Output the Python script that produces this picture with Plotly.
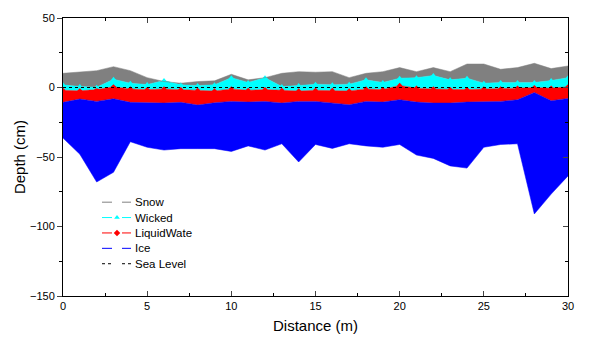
import plotly.graph_objects as go

distance = list(range(0, 31))
ice_bottom = [-36.4, -48, -68, -61, -39, -43, -45, -44, -44, -44, -46, -42, -45, -40.5, -53.6, -41,
              -43.8, -40.5, -42, -43, -41, -48.6, -51, -56.4, -58, -43, -41, -40.5, -91, -76.7, -63.6]
ice_top = [-10.7, -8.3, -10, -8.1, -10.7, -11.2, -11.2, -10.7, -12.6, -11, -10, -10.5, -10, -11.2, -10, -10,
           -11.2, -12.4, -10, -10.5, -8.8, -10.5, -11.2, -11.2, -10.5, -10, -10, -8.8, -3.6, -9.5, -7.9]
liquid_top = [-2, -2.4, -1.5, 0.5, -1, -1.5, -1, -1.5, -2, -2.5, -1, -2, -1.5, -2, -2.5, -2,
              -2, -2.5, -1, -1.5, 1.5, -0.5, -1, -1.5, -1.5, -1, -1, -0.5, 0, -0.5, 0.5]
wicked_top = [1.9, 0.7, 0.2, 5.9, 3.1, 2.1, 5, 1.9, 1.4, 1.9, 7.1, 3.6, 7.1, 0.7, 1.4, 2.4,
              1.9, 2.4, 5.5, 3.6, 6.7, 7.1, 8.6, 5.5, 6.7, 3.1, 3.6, 3.6, 3.6, 5, 7.1]
snow_top = [10.2, 11.4, 12.1, 15, 12.1, 7.1, 4.3, 3.1, 4.3, 4.8, 9.5, 5.5, 7.1, 10.2, 11.4, 11,
            11.4, 7.1, 10.2, 11.4, 14.3, 11.4, 14.3, 11.4, 16.9, 16.9, 13.1, 14.3, 17.4, 13.6, 15.5]
sea_level = [0] * len(distance)

x_ticks = [0, 5, 10, 15, 20, 25, 30]
y_ticks = [-150, -100, -50, 0, 50]

legend_names = ["Snow", "Wicked", "LiquidWate", "Ice", "Sea Level"]
legend_colors = ["#808080", "#00FFFF", "#FF0000", "#0000FF", "black"]
legend_markers = [None, "triangle-up", "diamond", None, None]
legend_dashes = ["solid", "solid", "solid", "solid", "3px,3px"]

GRAY, CYAN, RED, BLUE = "#808080", "#00FFFF", "#FF0000", "#0000FF"

fig = go.Figure()
# stacked fills between boundaries
fig.add_trace(go.Scatter(x=distance, y=ice_bottom, mode="lines", line=dict(color=BLUE, width=0.5),
                         showlegend=False, hoverinfo="skip"))
fig.add_trace(go.Scatter(x=distance, y=ice_top, mode="lines", line=dict(color=BLUE, width=0.5),
                         fill="tonexty", fillcolor=BLUE, showlegend=False))
fig.add_trace(go.Scatter(x=distance, y=liquid_top, mode="lines+markers", line=dict(color=RED, width=0.5),
                         marker=dict(symbol="diamond", size=4, color=RED),
                         fill="tonexty", fillcolor=RED, showlegend=False))
fig.add_trace(go.Scatter(x=distance, y=wicked_top, mode="lines+markers", line=dict(color=CYAN, width=0.5),
                         marker=dict(symbol="triangle-up", size=5, color=CYAN),
                         fill="tonexty", fillcolor=CYAN, showlegend=False))
fig.add_trace(go.Scatter(x=distance, y=snow_top, mode="lines", line=dict(color=GRAY, width=0.5),
                         fill="tonexty", fillcolor=GRAY, showlegend=False))
fig.add_trace(go.Scatter(x=distance, y=sea_level, mode="lines", line=dict(color="black", width=1.2, dash="3px,3px"),
                         showlegend=False))

# right-side mirrored ticks (inside)
fig.add_trace(go.Scatter(x=[None], y=[None], yaxis="y2", showlegend=False))

# hand-built legend on an overlay axis in pixel units
LX0, LY0, LDY = 102, 201.5, 15.5
for i, (name, col, mk, dash) in enumerate(zip(legend_names, legend_colors, legend_markers, legend_dashes)):
    yy = LY0 + i * LDY
    for seg in ([LX0, LX0 + 10], [LX0 + 20, LX0 + 29]):
        fig.add_trace(go.Scatter(x=seg, y=[yy, yy], xaxis="x2", yaxis="y3", mode="lines",
                                 line=dict(color=col, width=1, dash=dash), showlegend=False, hoverinfo="skip"))
    if mk:
        fig.add_trace(go.Scatter(x=[LX0 + 15], y=[yy], xaxis="x2", yaxis="y3", mode="markers",
                                 marker=dict(symbol=mk, size=5, color=col), showlegend=False, hoverinfo="skip"))
    fig.add_annotation(x=LX0 + 31, y=yy, xref="x2", yref="y3", text=name, showarrow=False,
                       xanchor="left", yanchor="middle", font=dict(size=11.5, color="black"))

fig.update_layout(
    width=600, height=350,
    margin=dict(l=63, r=32, t=16, b=54),
    paper_bgcolor="white", plot_bgcolor="white",
    font=dict(family="Liberation Sans, Arial", size=11, color="black"),
    showlegend=False,
    xaxis=dict(range=[0, 30], tickvals=x_ticks, ticks="inside", ticklen=5, tickwidth=1,
               showline=True, linecolor="black", linewidth=1, mirror="ticks",
               showgrid=False, zeroline=False,
               minor=dict(dtick=2.5, ticks="inside", ticklen=3, tickcolor="black"),
               title=dict(text="Distance (m)", font=dict(size=15), standoff=9)),
    yaxis=dict(range=[-150, 50], tickvals=y_ticks, ticks="outside", ticklen=5, tickwidth=1,
               showline=True, linecolor="black", linewidth=1, mirror=True,
               showgrid=False, zeroline=False,
               minor=dict(dtick=25, ticks="outside", ticklen=3, tickcolor="black"),
               title=dict(text="Depth (cm)", font=dict(size=15), standoff=0)),
    yaxis2=dict(range=[-150, 50], overlaying="y", side="right", tickvals=y_ticks, ticks="inside",
                ticklen=5, showticklabels=False, showgrid=False, zeroline=False,
                minor=dict(dtick=25, ticks="inside", ticklen=3, tickcolor="black")),
    xaxis2=dict(range=[63, 568], overlaying="x", visible=False, fixedrange=True),
    yaxis3=dict(range=[296, 16], overlaying="y", visible=False, fixedrange=True),
)
fig.write_html("out.html")
